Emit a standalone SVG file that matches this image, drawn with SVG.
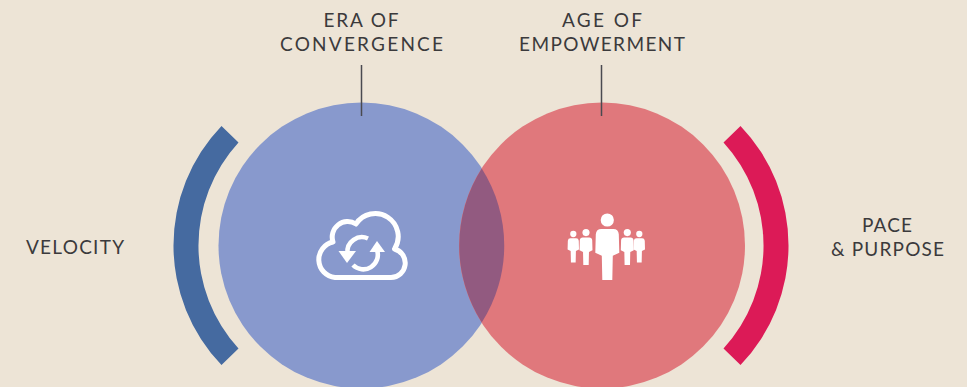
<svg xmlns="http://www.w3.org/2000/svg" xmlns:xlink="http://www.w3.org/1999/xlink" width="967" height="387" viewBox="0 0 967 387">
<style>
text{font-family:"Lato","Liberation Sans",sans-serif;font-size:19px;fill:#3b3a3c;text-anchor:middle}
.lead{stroke:#4a4a50;stroke-width:1.5;fill:none}
.ic{fill:none;stroke:#fff;stroke-linejoin:round}
.w{fill:#fff}
</style>
<defs>
<g id="person">
<circle cx="0" cy="6.3" r="6.6"/>
<path d="M-6 15.3H6Q11 15.3 11.500 20.500L12 39L5.500 42L5 66.300H-5L-5.500 42L-12 39L-11.500 20.500Q-11 15.300-6 15.300Z"/>
</g>
</defs>
<rect width="967" height="387" fill="#ede4d6"/>
<g id="arc-velocity"><path d="M221.500 126L238.500 142.500A152.500 152.500 0 0 0 238.500 348.500L221.500 365A172.700 172.700 0 0 1 221.500 126Z" fill="#456aa0"/></g>
<g id="arc-pace"><path d="M740.500 126L723.500 142.500A152.500 152.500 0 0 1 723.500 348.500L740.500 365A172.700 172.700 0 0 0 740.500 126Z" fill="#dc1a57"/></g>
<g id="era-of-convergence">
<circle cx="361.500" cy="245.500" r="143" fill="#8899cd"/>
<path class="ic" stroke-width="5" d="M335 277.500H391A14.500 14.500 0 0 0 394.500 249A21 21 0 0 0 356 224A15.500 15.500 0 0 0 333 242A18 18 0 0 0 335 277.500Z"/>
<path class="ic" stroke-width="4.600" d="M368 238.500A14.500 14.500 0 0 0 347.500 253"/>
<path class="w" d="M338.500 251H356L347 263Z"/>
<path class="ic" stroke-width="4.600" d="M353 265A14.500 14.500 0 0 0 377 250"/>
<path class="w" d="M369.500 252H385L377 241Z"/>
</g>
<g id="age-of-empowerment">
<circle cx="602" cy="245.500" r="143" fill="#e0787c"/>
<use xlink:href="#person" class="w" transform="translate(607.300 213.700)"/>
<use xlink:href="#person" class="w" transform="translate(586 229.200) scale(.54)"/>
<use xlink:href="#person" class="w" transform="translate(573.300 231) scale(.475)"/>
<use xlink:href="#person" class="w" transform="translate(627.300 229.200) scale(.54)"/>
<use xlink:href="#person" class="w" transform="translate(639.300 231) scale(.475)"/>
</g>
<g id="overlap"><path d="M481.750 168.500A143 143 0 0 1 481.750 322.500A143 143 0 0 1 481.750 168.500Z" fill="#925a80"/></g>
<g id="connectors">
<path class="lead" d="M361.500 65V116"/>
<path class="lead" d="M601.500 65V116"/>
</g>
<g id="label-era"><text x="361" y="27" textLength="75" lengthAdjust="spacing">ERA OF</text><text x="361.500" y="51" textLength="163" lengthAdjust="spacing">CONVERGENCE</text></g>
<g id="label-age"><text x="602" y="27" textLength="80" lengthAdjust="spacing">AGE OF</text><text x="602" y="51" textLength="166" lengthAdjust="spacing">EMPOWERMENT</text></g>
<g id="label-velocity"><text x="75" y="254" textLength="98" lengthAdjust="spacing">VELOCITY</text></g>
<g id="label-pace"><text x="887" y="232" textLength="50" lengthAdjust="spacing">PACE</text><text x="887.500" y="256" textLength="113" lengthAdjust="spacing">&amp; PURPOSE</text></g>
</svg>
